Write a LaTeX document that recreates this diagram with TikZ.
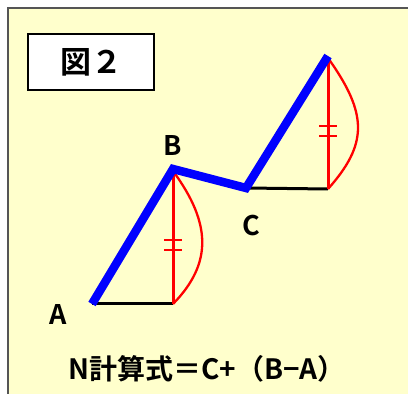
\documentclass[tikz,border=0pt]{standalone}
\usepackage{fontspec}
\newfontfamily\jpfont{Noto Sans CJK JP Bold}
\definecolor{bgyellow}{HTML}{FFFFCC}
\definecolor{framegray}{HTML}{555555}
\begin{document}
\begin{tikzpicture}[x=1pt,y=1pt,
  lbl/.style={font=\jpfont\fontsize{27}{27}\selectfont, inner sep=0pt},
  blueline/.style={draw=blue, line width=8.5pt, line join=miter},
  redline/.style={draw=red, line width=3pt},
  redcurve/.style={draw=red, line width=2.3pt},
  baseline/.style={draw=black, line width=3pt},
  tick/.style={draw=red, line width=2.5pt}]
\useasboundingbox (0,0) rectangle (408,394);
\fill[white] (0,0) rectangle (408,394);
\fill[bgyellow] (8,-5) rectangle (415,386);
\draw[framegray, line width=2pt] (8,-5) -- (8,386) -- (415,386);
% title box
\node[draw=black, line width=1.2pt, fill=white, minimum width=126pt, minimum height=56pt,
      font=\jpfont\fontsize{31}{31}\selectfont, inner sep=0pt] (title) at (91,332) {図２};
% points
\coordinate (A) at (92,90);
\coordinate (B) at (173,225);
\coordinate (C) at (246,206);
\coordinate (D) at (328,338);
\coordinate (Abase) at (173,90);
\coordinate (Cbase) at (328,205);
% black baselines
\draw[baseline] (A) -- (Abase);
\draw[baseline] (C) -- (Cbase);
% red verticals
\draw[redline] (173,223) -- (Abase);
\draw[redline] (328,336) -- (Cbase);
% red curves
\draw[redcurve] (173,223) .. controls (212,170) and (212,130) .. (Abase);
\draw[redcurve] (328,336) .. controls (368,280) and (368,250) .. (Cbase);
% ticks
\draw[tick] (164,154) -- (182,154);
\draw[tick] (164,144) -- (182,144);
\draw[tick] (319,268) -- (337,268);
\draw[tick] (319,258) -- (337,258);
% blue polyline
\draw[blueline] (A) -- (B) -- (C) -- (D);
% labels
\node[lbl] (lA) at (58,80) {A};
\node[lbl] (lB) at (173,249) {B};
\node[lbl] (lC) at (251,168) {C};
\node[font=\jpfont\fontsize{28}{28}\selectfont, inner sep=0pt] (formula) at (207,25) {N計算式＝C+（B−A）};
\end{tikzpicture}
\end{document}
